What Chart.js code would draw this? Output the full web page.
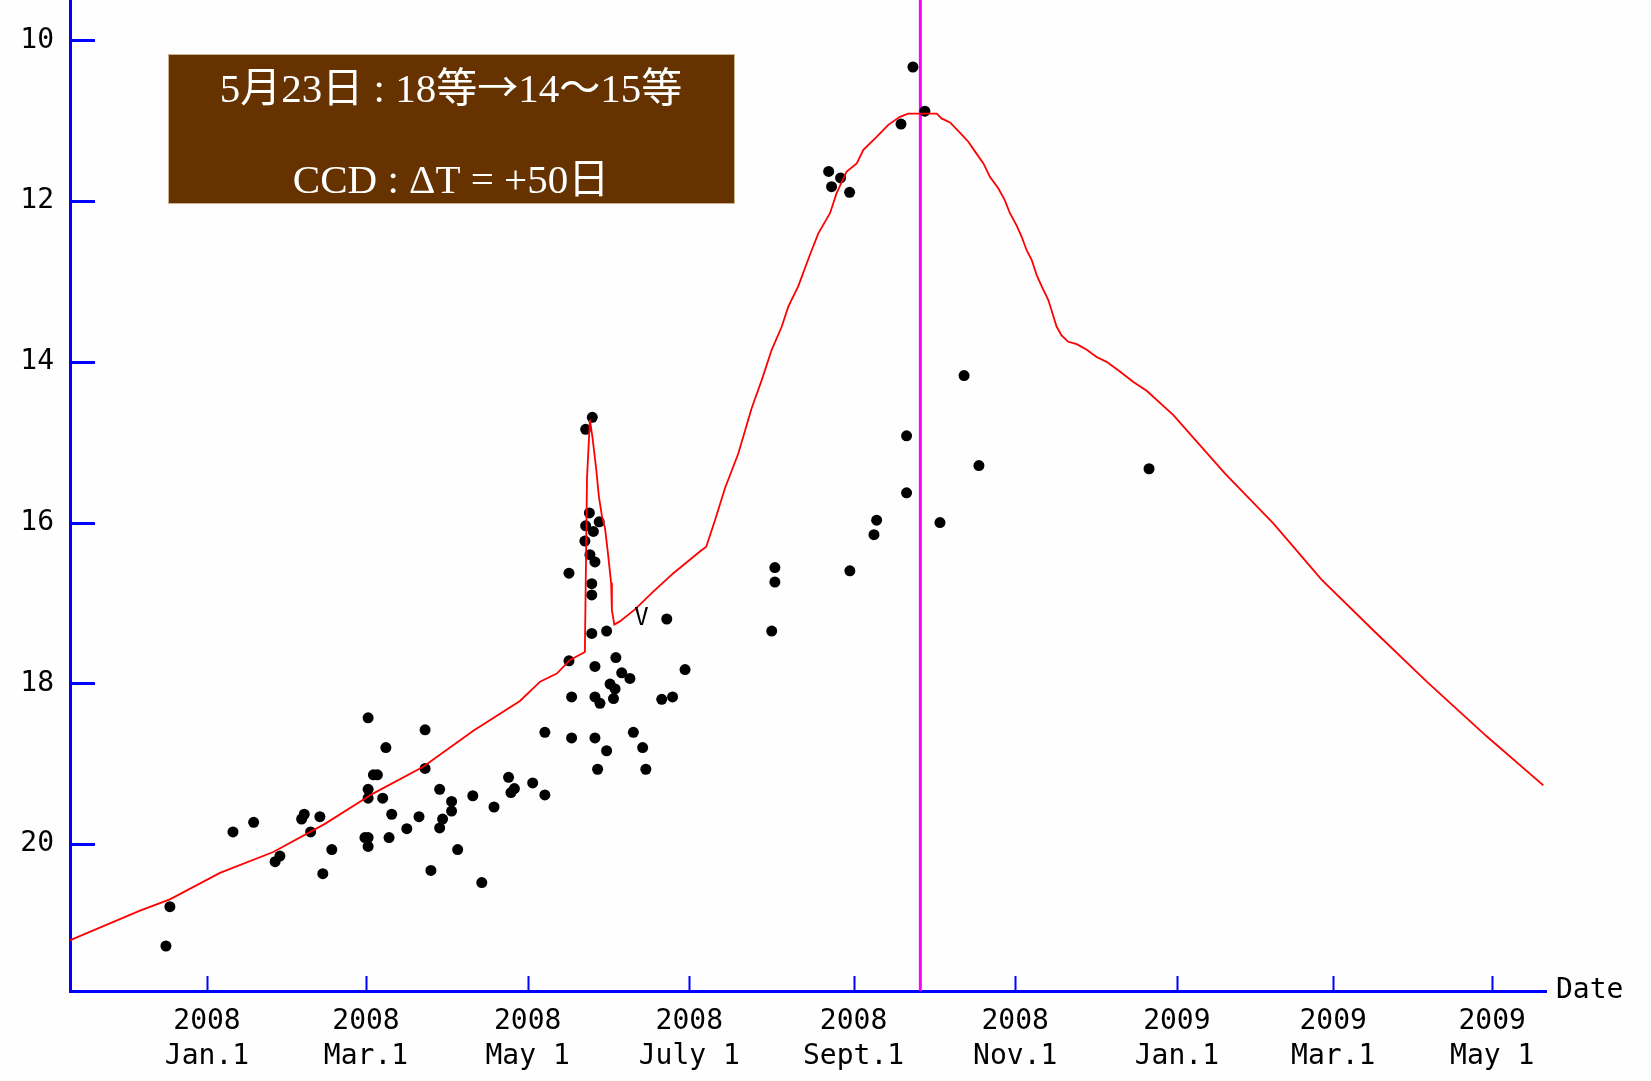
<!DOCTYPE html>
<html lang="ja">
<head>
  <meta charset="UTF-8">
  <title>光度曲線</title>
  <style>
    html, body {
      margin: 0;
      padding: 0;
      background-color: #fefefe;
    }
    .wrap {
      position: relative;
      width: 1651px;
      height: 1081px;
    }
  </style>
</head>
<body>
  <div class="wrap">
    <canvas id="chartCanvas" width="1651" height="1081"></canvas>
  </div>

  <script src="https://cdn.jsdelivr.net/npm/chart.js"></script>
  <script>
    // days since 2008 Jan.1
    const tickDays = [0, 60, 121, 182, 244, 305, 366, 425, 485];
    const tickYears = ['2008', '2008', '2008', '2008', '2008', '2008', '2009', '2009', '2009'];
    const tickDates = ['Jan.1', 'Mar.1', 'May 1', 'July 1', 'Sept.1', 'Nov.1', 'Jan.1', 'Mar.1', 'May 1'];
    const magTicks = [10, 12, 14, 16, 18, 20];

    // observed magnitudes
    const obsDay = [
      -15.5, -14.0, 9.8, 17.6, 25.7, 27.5, 35.7, 36.7, 39.1, 42.6, 43.7, 47.1,
      59.6, 60.8, 60.8, 60.8, 60.8, 60.8, 62.8, 64.3, 66.3, 67.5, 68.7, 69.7,
      75.4, 80.0, 82.3, 82.3, 84.5, 87.8, 87.8, 88.9, 92.3, 92.3, 94.6, 100.3,
      103.7, 108.3, 113.8, 114.7, 116.0,
      122.9, 127.5, 127.5, 136.6, 136.6, 137.6, 137.6, 142.9, 145.4, 142.6, 142.9,
      144.3, 145.8, 148.0, 144.5, 146.4, 145.2, 145.2, 145.2, 150.8, 146.4, 154.3,
      156.5, 159.6, 146.4, 148.3, 152.1, 154.0, 153.4, 146.4, 150.8, 147.4, 160.9,
      164.4, 165.6, 171.6, 175.7, 173.5, 180.4,
      213.1, 214.3, 214.3, 242.6, 251.7, 252.7, 264.0, 264.0, 276.6, 285.7, 291.3,
      355.5, 234.6, 235.7, 239.1, 242.5, 261.9, 266.4, 270.9
    ];
    const obsMag = [
      21.27, 20.78, 19.85, 19.73, 20.22, 20.15, 19.69, 19.63, 19.85, 19.66, 20.37, 20.07,
      19.92, 19.92, 20.03, 18.43, 19.32, 19.43, 19.14, 19.14, 19.43, 18.80, 19.92, 19.63,
      19.81, 19.66, 18.58, 19.06, 20.33, 19.32, 19.80, 19.69, 19.47, 19.59, 20.07, 19.40,
      20.48, 19.54, 19.17, 19.36, 19.31,
      19.24, 18.61, 19.39, 16.63, 17.72, 18.17, 18.68, 14.84, 14.69, 16.23, 16.04,
      15.88, 16.11, 15.99, 16.40, 16.49, 16.76, 16.90, 17.38, 17.35, 17.79, 17.68,
      17.87, 17.94, 18.17, 18.25, 18.01, 18.07, 18.19, 18.68, 18.84, 19.07, 18.61,
      18.80, 19.07, 18.20, 18.17, 17.20, 17.83,
      17.35, 16.56, 16.74, 16.60, 16.15, 15.97, 14.92, 15.63, 16.00, 14.17, 15.29,
      15.33, 11.63, 11.82, 11.71, 11.89, 11.04, 10.33, 10.88
    ];

    // predicted light curve
    const modelDay = [
      -51.8, -25.3, -14.0, 4.9, 25.0, 44.5, 62.8, 81.6, 100.5, 118.1, 125.7, 132.0,
      137.0, 142.6, 143.4, 144.5, 145.5, 146.8, 147.9, 149.1, 150.2, 151.3, 152.5,
      152.8, 153.7, 155.8, 161.5, 168.4, 176.0, 186.0, 188.4, 191.7, 195.5, 200.5,
      205.5, 209.3, 213.1, 216.9, 219.4, 223.1, 227.5, 230.7, 235.1, 237.6, 241.4,
      245.2, 247.7, 252.7, 257.1, 261.5, 264.6, 275.4, 277.2, 280.4, 284.2, 287.3,
      289.8, 293.0, 295.5, 298.6, 301.1, 303.0, 305.5, 307.4, 309.3, 311.2, 313.1,
      315.0, 317.5, 319.1, 320.6, 322.5, 325.0, 328.2, 332.0, 335.7, 339.5, 344.5,
      349.6, 354.6, 364.6, 384.2, 402.4, 420.6, 440.1, 460.3, 482.9, 504.3
    ];
    const modelMag = [
      21.20, 20.83, 20.69, 20.36, 20.10, 19.75, 19.37, 19.04, 18.59, 18.22, 17.98, 17.88,
      17.71, 17.61, 15.45, 14.72, 14.95, 15.31, 15.68, 15.93, 16.07, 16.38, 16.75,
      17.09, 17.27, 17.23, 17.08, 16.86, 16.63, 16.36, 16.30, 15.97, 15.57, 15.14,
      14.58, 14.23, 13.85, 13.56, 13.31, 13.06, 12.67, 12.40, 12.15, 11.90, 11.63,
      11.53, 11.36, 11.20, 11.05, 10.95, 10.91, 10.91, 10.97, 11.02, 11.15, 11.26,
      11.38, 11.53, 11.70, 11.84, 11.99, 12.15, 12.30, 12.44, 12.61, 12.73, 12.92,
      13.06, 13.23, 13.40, 13.56, 13.67, 13.75, 13.78, 13.85, 13.94, 14.00, 14.12,
      14.25, 14.36, 14.66, 15.39, 16.01, 16.71, 17.34, 17.98, 18.66, 19.27
    ];

    const limitDay = [164.0];
    const limitMag = [17.2];
    const markerDay = 269.2;
    const noteLines = ['5月23日 : 18等→14～15等', 'CCD : ΔT = +50日'];

    const monoFont = '"DejaVu Sans Mono", monospace';
    const serifFont = '41px "Liberation Serif", serif';
    const cjkFont = '41px "Noto Sans CJK JP", sans-serif';
    const blue = '#0000ff';

    // latin in serif, kana/kanji/arrow/tilde in the CJK face
    function drawMixed(c, text, cx, y) {
      const runs = [];
      for (const ch of text) {
        const f = /[\x20-\x7e\u0394]/.test(ch) ? serifFont : cjkFont;
        if (runs.length && runs[runs.length - 1].f === f) runs[runs.length - 1].t += ch;
        else runs.push({ f, t: ch });
      }
      let total = 0;
      runs.forEach(r => { c.font = r.f; r.w = c.measureText(r.t).width; total += r.w; });
      let x = cx - total / 2;
      c.textAlign = 'left';
      runs.forEach(r => { c.font = r.f; c.fillText(r.t, x, y); x += r.w; });
    }

    const decorPlugin = {
      id: 'decor',
      beforeDraw(chart) {
        const c = chart.ctx;
        c.save();
        c.fillStyle = '#fefefe';
        c.fillRect(0, 0, chart.width, chart.height);
        c.restore();
      },
      beforeDatasetsDraw(chart) {
        const c = chart.ctx;
        const xs = chart.scales.x, ys = chart.scales.y;
        const area = chart.chartArea;
        c.save();
        // inward tick marks
        c.strokeStyle = blue;
        c.lineWidth = 2;
        tickDays.forEach(d => {
          const px = Math.round(xs.getPixelForValue(d)) + 0.5;
          c.beginPath();
          c.moveTo(px, area.bottom);
          c.lineTo(px, area.bottom - 15);
          c.stroke();
        });
        c.lineWidth = 3;
        magTicks.forEach(m => {
          const py = Math.round(ys.getPixelForValue(m)) + 0.5;
          c.beginPath();
          c.moveTo(area.left, py);
          c.lineTo(area.left + 25, py);
          c.stroke();
        });
        // date marker
        const mx = xs.getPixelForValue(markerDay);
        c.strokeStyle = '#ff00ff';
        c.lineWidth = 3;
        c.beginPath();
        c.moveTo(mx, area.top);
        c.lineTo(mx, area.bottom);
        c.stroke();
        c.restore();
      },
      afterDraw(chart) {
        const c = chart.ctx;
        const xs = chart.scales.x, ys = chart.scales.y;
        const area = chart.chartArea;
        c.save();
        // upper-limit mark
        c.fillStyle = '#000';
        c.font = '24px ' + monoFont;
        c.textAlign = 'center';
        c.textBaseline = 'middle';
        limitDay.forEach((d, i) => {
          c.fillText('V', xs.getPixelForValue(d), ys.getPixelForValue(limitMag[i]));
        });
        // axis title
        c.font = '28px ' + monoFont;
        c.textAlign = 'left';
        c.fillText('Date', area.right + 10, area.bottom);
        // note box
        c.fillStyle = '#663300';
        c.fillRect(168, 54, 567, 150);
        c.strokeStyle = '#c9b28f';
        c.lineWidth = 1;
        c.strokeRect(168.5, 54.5, 566, 149);
        c.fillStyle = '#ffffff';
        c.textBaseline = 'alphabetic';
        drawMixed(c, noteLines[0], 451, 102);
        drawMixed(c, noteLines[1], 451, 193);
        c.restore();
      }
    };

    const ctx = document.getElementById('chartCanvas').getContext('2d');
    const chart = new Chart(ctx, {
      type: 'scatter',
      data: {
        datasets: [
          {
            label: 'model',
            data: modelDay.map((d, i) => ({ x: d, y: modelMag[i] })),
            showLine: true,
            borderColor: '#ff0000',
            borderWidth: 1.8,
            pointRadius: 0,
            tension: 0
          },
          {
            label: 'observed',
            data: obsDay.map((d, i) => ({ x: d, y: obsMag[i] })),
            pointStyle: 'circle',
            pointRadius: 5.5,
            borderWidth: 0,
            backgroundColor: '#000000',
            borderColor: '#000000'
          }
        ]
      },
      options: {
        responsive: false,
        animation: false,
        layout: { autoPadding: false, padding: { left: 0, right: 105, top: 0, bottom: 0 } },
        plugins: {
          legend: { display: false },
          tooltip: { enabled: false }
        },
        scales: {
          x: {
            type: 'linear',
            position: 'bottom',
            min: -51.7,
            max: 505.3,
            afterBuildTicks: s => { s.ticks = tickDays.map(v => ({ value: v })); },
            afterFit: s => { s.height = 90; s.paddingLeft = 0; s.paddingRight = 0; },
            grid: { display: false },
            border: { color: blue, width: 3 },
            ticks: {
              autoSkip: false,
              maxRotation: 0,
              padding: 6,
              color: '#000',
              font: { family: monoFont, size: 28, lineHeight: 1.22 },
              callback: (v, i) => [tickYears[i], tickDates[i]]
            }
          },
          y: {
            type: 'linear',
            reverse: true,
            min: 9.496,
            max: 21.83,
            afterBuildTicks: s => { s.ticks = magTicks.map(v => ({ value: v })); },
            afterFit: s => { s.width = 70; s.paddingTop = 0; s.paddingBottom = 0; },
            grid: { display: false },
            border: { color: blue, width: 3 },
            ticks: {
              padding: 8,
              color: '#000',
              font: { family: monoFont, size: 28 },
              callback: v => String(v)
            }
          }
        }
      },
      plugins: [decorPlugin]
    });
  </script>
</body>
</html>
